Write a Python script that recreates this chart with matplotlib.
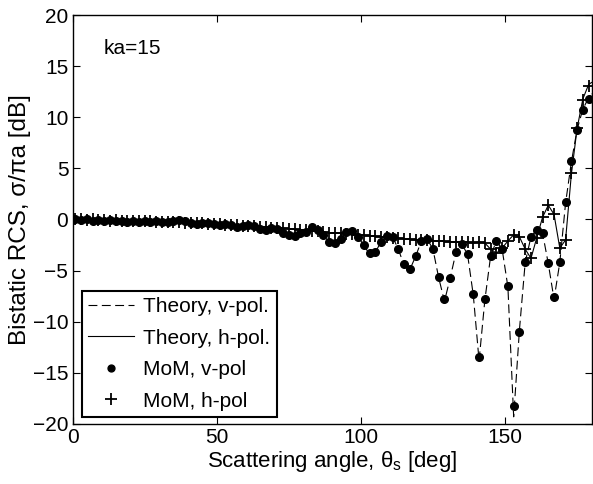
import numpy as np
import matplotlib
matplotlib.use("Agg")
import matplotlib.pyplot as plt

plt.rcParams['font.family'] = ['Liberation Sans', 'DejaVu Sans']
plt.rcParams['mathtext.fontset'] = 'custom'
plt.rcParams['mathtext.rm'] = 'Liberation Sans'
plt.rcParams['mathtext.it'] = 'Liberation Sans:italic'

# MoM sample angles (deg)
mom_theta = np.arange(1, 180, 2)

mom_v = [0.0, -0.05, 0.0, -0.1, -0.05, -0.1, -0.05, -0.15, -0.1, -0.2,
         -0.1, -0.2, -0.15, -0.25, -0.15, -0.25, -0.2, -0.1, -0.05, -0.15,
         -0.3, -0.4, -0.35, -0.3, -0.45, -0.5, -0.4, -0.55, -0.7, -0.6,
         -0.5, -0.6, -0.9, -1.0, -0.8, -0.9, -1.3, -1.5, -1.6, -1.3,
         -1.2, -0.7, -1.0, -1.5, -2.2, -2.3, -1.9, -1.2, -1.1, -1.7,
         -2.5, -3.3, -3.2, -2.2, -1.6, -1.7, -2.9, -4.4, -4.8, -3.6,
         -2.1, -1.9, -2.9, -5.6, -7.8, -5.7, -3.2, -2.4, -3.4, -7.3,
         -13.4, -7.8, -3.6, -2.1, -2.9, -6.5, -18.2, -11.0, -4.2, -1.7,
         -1.0, -1.3, -4.3, -7.6, -4.2, 1.7, 5.7, 8.8, 10.7, 11.8]

mom_h = [0.0, 0.0, -0.05, 0.0, -0.05, -0.05, -0.1, -0.05, -0.1, -0.1,
         -0.15, -0.1, -0.15, -0.15, -0.2, -0.2, -0.2, -0.25, -0.2, -0.3,
         -0.3, -0.35, -0.35, -0.4, -0.4, -0.45, -0.5, -0.5, -0.55, -0.6,
         -0.6, -0.65, -0.7, -0.7, -0.8, -0.8, -0.85, -0.9, -0.95, -1.0,
         -1.05, -1.1, -1.15, -1.2, -1.3, -1.3, -1.35, -1.4, -1.45, -1.5,
         -1.55, -1.6, -1.65, -1.7, -1.75, -1.8, -1.85, -1.9, -1.95, -2.0,
         -2.0, -2.05, -2.1, -2.1, -2.15, -2.2, -2.2, -2.25, -2.2, -2.3,
         -2.2, -2.3, -2.9, -3.3, -2.8, -2.1, -1.5, -1.7, -2.9, -3.8,
         -1.8, 0.2, 1.4, 0.5, -2.8, -2.0, 4.5, 8.9, 11.7, 13.1]

# theory curves (deg, dB)
theory_theta = np.r_[0, mom_theta, 180]

theory_v = [0.0, 0.0, -0.05, 0.0, -0.1, -0.05, -0.1, -0.05, -0.15, -0.1, -0.2,
            -0.1, -0.2, -0.15, -0.25, -0.15, -0.25, -0.2, -0.1, -0.05, -0.15,
            -0.3, -0.4, -0.35, -0.3, -0.45, -0.5, -0.4, -0.55, -0.7, -0.6,
            -0.5, -0.6, -0.9, -1.0, -0.8, -0.9, -1.3, -1.5, -1.6, -1.3,
            -1.2, -0.7, -1.0, -1.5, -2.2, -2.3, -1.9, -1.2, -1.1, -1.7,
            -2.5, -3.4, -3.2, -2.2, -1.6, -1.7, -2.9, -4.5, -4.9, -3.6,
            -2.1, -1.9, -2.9, -5.7, -8.0, -5.7, -3.2, -2.4, -3.4, -7.4,
            -13.8, -7.9, -3.6, -2.1, -2.9, -6.6, -19.3, -10.8, -4.2, -1.7,
            -1.0, -1.3, -4.3, -7.8, -4.2, 1.6, 5.6, 8.8, 10.8, 11.9, 12.3]

theory_h = [0.0, 0.0, 0.0, -0.05, 0.0, -0.05, -0.05, -0.1, -0.05, -0.1, -0.1,
            -0.15, -0.1, -0.15, -0.15, -0.2, -0.2, -0.2, -0.25, -0.2, -0.3,
            -0.3, -0.35, -0.35, -0.4, -0.4, -0.45, -0.5, -0.5, -0.55, -0.6,
            -0.6, -0.65, -0.7, -0.7, -0.8, -0.8, -0.85, -0.9, -0.95, -1.0,
            -1.05, -1.1, -1.15, -1.2, -1.3, -1.3, -1.35, -1.4, -1.45, -1.5,
            -1.55, -1.6, -1.65, -1.7, -1.75, -1.8, -1.85, -1.9, -1.95, -2.0,
            -2.0, -2.05, -2.1, -2.1, -2.15, -2.2, -2.2, -2.25, -2.2, -2.3,
            -2.2, -2.3, -2.9, -3.3, -2.8, -2.1, -1.5, -1.7, -2.9, -3.8,
            -1.8, 0.2, 1.4, 0.5, -2.8, -2.0, 4.4, 8.9, 11.8, 13.2, 13.4]

fig = plt.figure(figsize=(5.93, 4.84), dpi=100)
ax = fig.add_axes([0.1223, 0.124, 0.8752, 0.845])

fs = 15
ax.plot(theory_theta, theory_v, color='black', lw=0.8, ls=(0, (8, 4)),
        label='Theory, v-pol.')
ax.plot(theory_theta, theory_h, color='black', lw=0.8, ls='-',
        label='Theory, h-pol.')
ax.plot(mom_theta, mom_v, ls='none', marker='o', ms=5.5, color='black',
        label='MoM, v-pol')
ax.plot(mom_theta, mom_h, ls='none', marker='+', ms=9, mew=1.3,
        color='black', label='MoM, h-pol')

ax.set_xlim(0, 180)
ax.set_ylim(-20, 20)
ax.set_xticks([0, 50, 100, 150])
ax.set_yticks(np.arange(-20, 21, 5))
ax.tick_params(direction='in', top=True, right=True, length=5,
               labelsize=fs, pad=3)
for s in ax.spines.values():
    s.set_linewidth(1.0)

ax.set_xlabel(r'Scattering angle, $\mathrm{\theta_s}$ [deg]', fontsize=16,
              labelpad=1)
ax.set_ylabel('Bistatic RCS, σ/πa [dB]', fontsize=17.5, labelpad=1)
ax.text(10.8, 16.7, 'ka=15', fontsize=fs, va='center', ha='left')

leg = ax.legend(loc='lower left', bbox_to_anchor=(0.018, 0.017),
                borderaxespad=0, fontsize=fs, fancybox=False,
                edgecolor='black', framealpha=1, handlelength=2.2,
                handletextpad=0.45, labelspacing=0.6, borderpad=0.3,
                markerscale=0.9)
leg.get_frame().set_linewidth(1.5)

fig.savefig('out.png', dpi=100)
